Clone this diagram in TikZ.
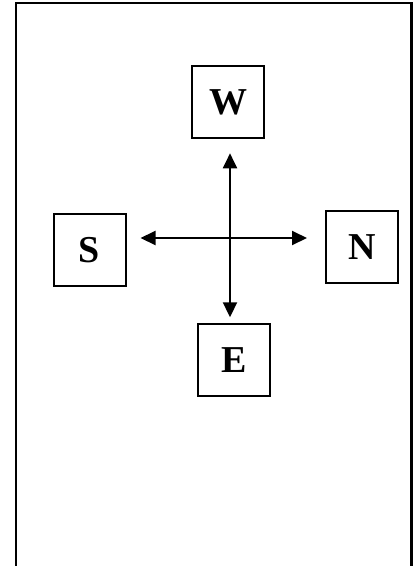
\documentclass[tikz,border=0pt]{standalone}
\usepackage{fontspec}
\setmainfont{Liberation Serif}
\usetikzlibrary{arrows.meta}
\begin{document}
\begin{tikzpicture}[x=1pt,y=-1pt,
  box/.style={draw, line width=2pt, minimum width=72pt, minimum height=72pt, inner sep=0pt,
    font=\fontsize{38}{38}\selectfont\bfseries},
  link/.style={line width=2pt, {Triangle[length=15pt,width=14pt]}-{Triangle[length=15pt,width=14pt]}},
  frame/.style={line width=2.2pt}]
\useasboundingbox (0,0) rectangle (413,566);
\draw[frame] (16,600) -- (16,3) -- (411.5,3) -- (411.5,600);
\node[box] (W) at (228.3,102.3) {W};
\node[box] (S) at (89.5,250) {S};
\node[box] (N) at (362,246.7) {N};
\node[box] (E) at (234,360.3) {E};
\coordinate (c) at (230,238);
\draw[link, shorten <=14pt, shorten >=6pt] (c |- W.south) -- (c |- E.north);
\draw[link, shorten <=14pt, shorten >=18pt] (S.east |- c) -- (N.west |- c);
\end{tikzpicture}
\end{document}
